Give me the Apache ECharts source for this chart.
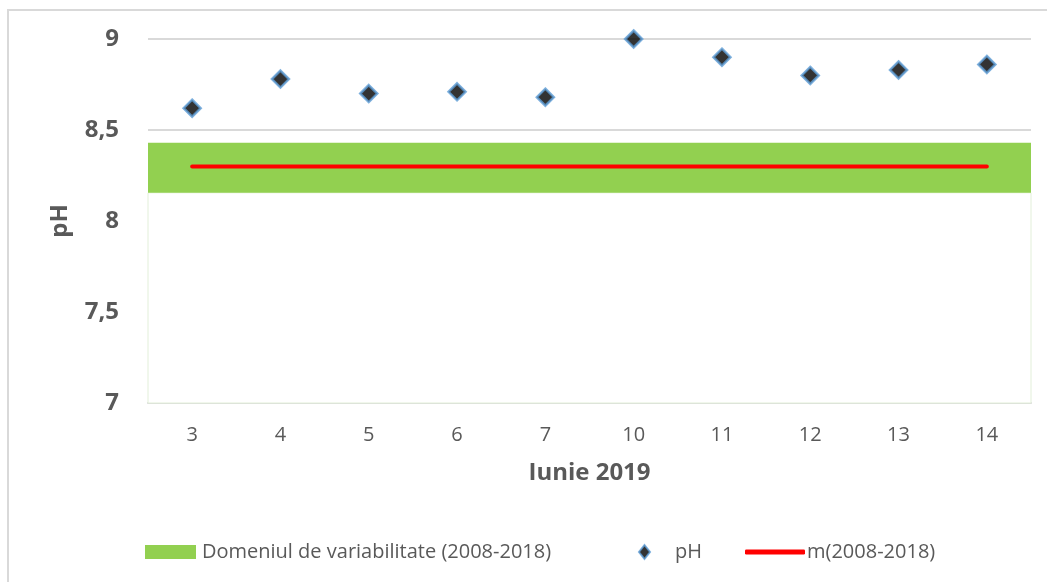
<!DOCTYPE html>
<html>
<head>
<meta charset="utf-8">
<script src="https://cdn.jsdelivr.net/npm/echarts@6/dist/echarts.min.js"></script>
<style>
  html, body { margin: 0; padding: 0; background: #fff; }
  #chart { width: 1047px; height: 582px; }
</style>
</head>
<body>
<div id="chart"></div>
<script>
    // Iunie 2019 - zile de prelevare
    const days = ['3', '4', '5', '6', '7', '10', '11', '12', '13', '14'];
    const phValues = [8.62, 8.78, 8.70, 8.71, 8.68, 9.00, 8.90, 8.80, 8.83, 8.86];
    // domeniul de variabilitate 2008-2018 si media
    const rangeLow = 8.155;
    const rangeHigh = 8.43;
    const meanValue = 8.30;
    const yTicks = [7, 7.5, 8, 8.5, 9];

    const gray = '#595959';
    const font = 'Open Sans';

    const chart = echarts.init(document.getElementById('chart'));
    const option = {
        animation: false,
        backgroundColor: '#fff',
        textStyle: { fontFamily: font },
        graphic: [{
            type: 'rect',
            shape: { x: 8, y: 10, width: 1200, height: 800 },
            style: { fill: 'none', stroke: '#d9d9d9', lineWidth: 2 },
            z: -1
        }],
        grid: { left: 148, right: 16, top: 39, bottom: 179 },
        legend: [
            {
                data: [{ name: 'Domeniul de variabilitate (2008-2018)', icon: 'rect' }],
                left: 140, top: 537,
                itemWidth: 51, itemHeight: 14,
                textStyle: { color: gray, fontSize: 20, fontFamily: font, padding: [0, 0, 0, 1] }
            },
            {
                data: [{ name: 'pH', icon: 'diamond' }],
                left: 633, top: 537,
                itemWidth: 11, itemHeight: 14,
                textStyle: { color: gray, fontSize: 20, fontFamily: font, padding: [0, 0, 0, 20] }
            },
            {
                data: [{ name: 'm(2008-2018)', icon: 'roundRect' }],
                left: 740, top: 537,
                itemWidth: 60, itemHeight: 5,
                textStyle: { color: gray, fontSize: 20, fontFamily: font, padding: [0, 0, 0, -3] }
            }
        ],
        xAxis: {
            type: 'category',
            data: days,
            name: 'Iunie 2019',
            nameLocation: 'middle',
            nameGap: 58,
            nameTextStyle: { color: gray, fontSize: 24, fontWeight: 'bold', fontFamily: font },
            axisLine: { lineStyle: { color: '#d9d9d9', width: 2 } },
            axisTick: { show: false },
            axisLabel: { color: gray, fontSize: 20, margin: 22, fontFamily: font }
        },
        yAxis: {
            type: 'value',
            min: yTicks[0],
            max: yTicks[yTicks.length - 1],
            interval: 0.5,
            name: 'pH',
            nameLocation: 'middle',
            nameGap: 76,
            nameTextStyle: { color: gray, fontSize: 24, fontWeight: 'bold', fontFamily: font },
            axisLine: { show: false },
            axisTick: { show: false },
            axisLabel: {
                color: gray, fontSize: 24, fontWeight: 'bold', margin: 29, fontFamily: font,
                formatter: v => String(v).replace('.', ',')
            },
            splitLine: { lineStyle: { color: '#d9d9d9', width: 2 } }
        },
        series: [
            {
                name: 'Domeniul de variabilitate (2008-2018)',
                type: 'line',
                data: [],
                itemStyle: { color: '#92d050' },
                markArea: {
                    silent: true,
                    data: [
                        [
                            { yAxis: yTicks[0], itemStyle: { color: '#ffffff', borderColor: '#e2efd9', borderWidth: 1 } },
                            { yAxis: rangeLow }
                        ],
                        [
                            { yAxis: rangeLow, itemStyle: { color: '#92d050' } },
                            { yAxis: rangeHigh }
                        ]
                    ]
                }
            },
            {
                name: 'm(2008-2018)',
                type: 'line',
                data: days.map(() => meanValue),
                symbol: 'none',
                itemStyle: { color: '#ff0000' },
                lineStyle: { color: '#ff0000', width: 4, cap: 'round' },
                z: 3
            },
            {
                name: 'pH',
                type: 'scatter',
                data: phValues,
                symbol: 'diamond',
                symbolSize: 17,
                itemStyle: { color: '#000000', borderColor: '#5b9bd5', borderWidth: 2.5 },
                z: 4
            }
        ]
    };
    chart.setOption(option);
</script>
</body>
</html>
